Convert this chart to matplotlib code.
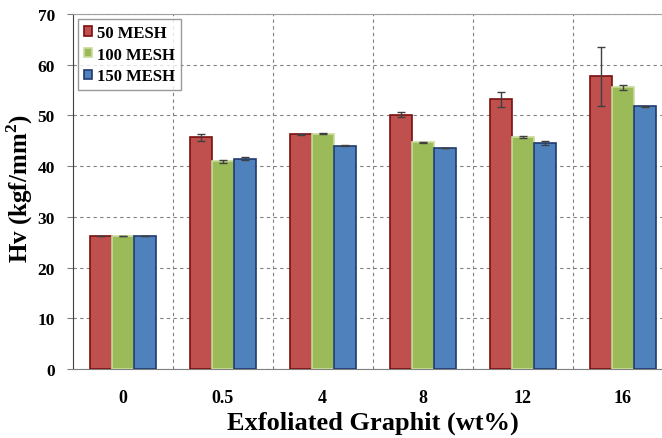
import matplotlib
matplotlib.use('Agg')
import matplotlib.pyplot as plt
import numpy as np

plt.rcParams['font.family'] = ['Liberation Serif', 'DejaVu Serif']
plt.rcParams['font.weight'] = 'bold'
plt.rcParams['mathtext.fontset'] = 'custom'
plt.rcParams['mathtext.bf'] = 'Liberation Serif:bold'
plt.rcParams['mathtext.rm'] = 'Liberation Serif:bold'

categories = ['0', '0.5', '4', '8', '12', '16']
series = ['50 MESH', '100 MESH', '150 MESH']
mesh50 = [26.3, 45.7, 46.3, 50.15, 53.2, 57.7]
mesh100 = [26.3, 41.0, 46.4, 44.7, 45.8, 55.5]
mesh150 = [26.3, 41.5, 44.0, 43.6, 44.6, 51.8]
err50 = [0, 0.7, 0.1, 0.5, 1.5, 5.8]
err100 = [0, 0.3, 0.05, 0.1, 0.2, 0.4]
err150 = [0, 0.3, 0.1, 0.05, 0.45, 0.05]

colors = ['#C0504D', '#9BBB59', '#4F81BD']
edges = ['#7A1010', '#C9DC9C', '#1F3B6E']

fig = plt.figure(figsize=(6.62, 4.39), dpi=100)
ax = fig.add_axes([0.110, 0.157, 0.906, 0.809])

x = np.arange(len(categories))
w = 0.22
vals = [mesh50, mesh100, mesh150]
errs = [err50, err100, err150]
for i in range(3):
    ax.bar(x + (i - 1) * w, vals[i], w, color=colors[i], edgecolor=edges[i],
           linewidth=1.2, label=series[i], zorder=3,
           yerr=errs[i], error_kw=dict(ecolor='#404040', elinewidth=1, capsize=3, capthick=1))

ax.set_xlim(-0.5, len(categories) - 0.5)
ax.set_ylim(0, 70)
ax.set_yticks(range(0, 71, 10))
ax.set_xticks(x)
ax.set_xticklabels(categories)
ax.set_xticks(np.arange(0.5, len(categories) - 0.5, 1), minor=True)
ax.tick_params(axis='x', which='both', length=0, pad=14, labelsize=13)
ax.tick_params(axis='y', length=4, direction='out', labelsize=12.5, pad=9, color='#808080')

ax.grid(axis='y', which='major', linestyle=(0, (3, 3)), color='#808080', linewidth=0.8, zorder=0)
ax.grid(axis='x', which='minor', linestyle=(0, (3, 3)), color='#808080', linewidth=0.8, zorder=0)

ax.spines['left'].set_color('#404040')
ax.spines['bottom'].set_color('#808080')
ax.spines['top'].set_color('#A0A0A0')
ax.spines['right'].set_visible(False)

ax.set_ylabel('Hv (kgf/mm$^{\\mathbf{2}}$)', fontsize=18, fontweight='bold')
ax.yaxis.set_label_coords(-0.088, 0.51)
ax.yaxis.label.set_va('center')
ax.set_xlabel('Exfoliated Graphit (wt%)', fontsize=19, fontweight='bold', labelpad=4)

leg = ax.legend(loc='upper left', bbox_to_anchor=(0.0, 1.0), fontsize=12, frameon=True,
                fancybox=False, edgecolor='#808080', handlelength=0.5, handleheight=0.5,
                handletextpad=0.3, borderaxespad=0.3, labelspacing=0.35, borderpad=0.35)
for t in leg.get_texts():
    t.set_fontweight('bold')

fig.savefig('out.png', dpi=100)
